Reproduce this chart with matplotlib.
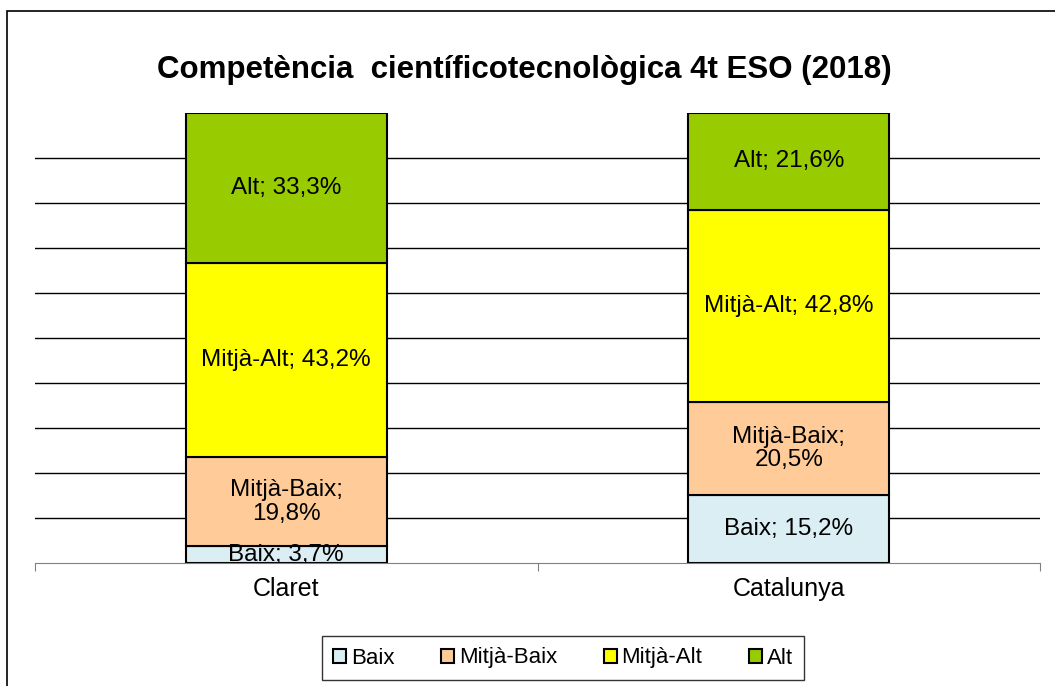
import matplotlib.pyplot as plt
from matplotlib.patches import Rectangle

plt.rcParams['font.family'] = ['Liberation Sans', 'DejaVu Sans']

## Dades
categories = ["Claret", "Catalunya"]
nivells = ["Baix", "Mitjà-Baix", "Mitjà-Alt", "Alt"]
baix = [3.7, 15.2]
mitja_baix = [19.8, 20.5]
mitja_alt = [43.2, 42.8]
alt = [33.3, 21.6]
colors = ["#DAEEF3", "#FFCC99", "#FFFF00", "#99CC00"]

series = [baix, mitja_baix, mitja_alt, alt]

fig = plt.figure(figsize=(10.55, 6.86), dpi=100)
ax = fig.add_axes([35/1055, 1-563/686, 1005/1055, 450/686])

# marc exterior
fig.patches.append(Rectangle((7/1055, -0.1), 1.2, 1-11/686+0.1, transform=fig.transFigure,
                             fill=False, edgecolor="black", linewidth=1.2))

x = [0, 1]
bottoms = [0, 0]
for nom, vals, col in zip(nivells, series, colors):
    bars = ax.bar(x, vals, width=0.4, bottom=bottoms, color=col, edgecolor="black",
                  linewidth=1.5, label=nom, zorder=3)
    for i, b in enumerate(bars):
        v = vals[i]
        txt = f"{nom}; {v:.1f}%".replace(".", ",")
        if nom == "Mitjà-Baix":
            txt = txt.replace("; ", ";\n")
        ax.text(b.get_x() + b.get_width()/2, bottoms[i] + v/2, txt, ha="center", va="center",
                fontsize=17.5, linespacing=1.1, zorder=4, clip_on=True)
    bottoms = [bottoms[i] + vals[i] for i in range(2)]

ax.set_xlim(-0.5, 1.5)
ax.set_ylim(0, 100)
for g in range(10, 100, 10):
    ax.axhline(g, color="black", linewidth=1, zorder=1)

for s in ["left", "right", "top"]:
    ax.spines[s].set_visible(False)
ax.spines["bottom"].set_color("#808080")
ax.spines["bottom"].set_zorder(5)
ax.set_yticks([])
ax.set_xticks([-0.5, 0.5, 1.5], minor=False)
ax.set_xticklabels([])
ax.tick_params(axis="x", which="major", length=6, color="#808080", direction="out")
ax.set_xticks(x, minor=True)
ax.set_xticklabels(categories, minor=True, fontsize=18)
ax.tick_params(axis="x", which="minor", length=0, pad=10)

fig.text(524/1055, 1-70/686, "Competència  científicotecnològica 4t ESO (2018)",
         ha="center", va="center", fontsize=22.5, fontweight="bold")

leg = fig.legend(loc="center", bbox_to_anchor=(563/1055, 1-658/686), ncol=4, fontsize=16,
                 frameon=True, fancybox=False, edgecolor="black", handlelength=0.6,
                 handleheight=0.6, handletextpad=0.2, columnspacing=2.1,
                 borderpad=0.5)
leg.get_frame().set_linewidth(1)

fig.savefig("out.png", dpi=100)
